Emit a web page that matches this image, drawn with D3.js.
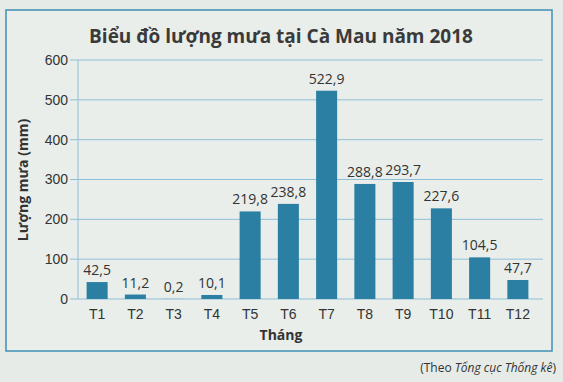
<!DOCTYPE html>
<html><head><meta charset="utf-8">
<script src="https://cdn.jsdelivr.net/npm/d3@7"></script>
<style>body{margin:0;background:#e6ebe7;}svg{display:block;font-family:"Open Sans",sans-serif;}</style>
</head><body><svg id="c" width="563" height="382"></svg>
<script>
const months = ["T1","T2","T3","T4","T5","T6","T7","T8","T9","T10","T11","T12"];
const rainfall = [42.5,11.2,0.2,10.1,219.8,238.8,522.9,288.8,293.7,227.6,104.5,47.7];
const yTicks = [0,100,200,300,400,500,600];
const title = "Biểu đồ lượng mưa tại Cà Mau năm 2018";
const yLabel = "Lượng mưa (mm)";
const xLabel = "Tháng";

const svg = d3.select("#c");
svg.append("rect").attr("width",563).attr("height",382).attr("fill","#e6ebe7");
svg.append("rect").attr("x",6).attr("y",10).attr("width",546).attr("height",341)
  .attr("fill","#e9eeea").attr("stroke","#3f8fb5").attr("stroke-width",1.5);

const x = d3.scaleBand().domain(months).range([78,537]).paddingInner(0.45).paddingOuter(0.225);
const y = d3.scaleLinear().domain([0,600]).range([299,60]);

const grid = svg.append("g");
grid.selectAll("line").data(yTicks).join("line")
  .attr("x1",70).attr("x2",543).attr("y1",d=>y(d)).attr("y2",d=>y(d))
  .attr("stroke","#8fbfd6").attr("stroke-width",1);
svg.append("line").attr("x1",78).attr("x2",78).attr("y1",y(600)).attr("y2",y(0))
  .attr("stroke","#8fbfd6");

const yAxis = svg.append("g").attr("transform","translate(78,0)")
  .call(d3.axisLeft(y).tickValues(yTicks).tickSize(0).tickPadding(10));
yAxis.select(".domain").remove();
yAxis.selectAll("text").attr("font-size",14).attr("fill","#333");

const xAxis = svg.append("g").attr("transform","translate(0,299)")
  .call(d3.axisBottom(x).tickSize(0).tickPadding(10));
xAxis.select(".domain").remove();
xAxis.selectAll("text").attr("font-size",14).attr("fill","#333");

svg.append("g").selectAll("rect").data(rainfall).join("rect")
  .attr("x",(d,i)=>x(months[i])).attr("width",x.bandwidth())
  .attr("y",d=>y(d)).attr("height",d=>y(0)-y(d)).attr("fill","#2b7fa3");

svg.append("g").selectAll("text").data(rainfall).join("text")
  .attr("x",(d,i)=>x(months[i])+x.bandwidth()/2).attr("y",d=>y(d)-7)
  .attr("text-anchor","middle").attr("font-size",14).attr("fill","#333")
  .text(d=>d3.format(".1f")(d).replace(".",","));

svg.append("text").attr("x",281).attr("y",43).attr("text-anchor","middle")
  .attr("font-size",19).attr("font-weight","bold").attr("fill","#3a3a3a").text(title);
svg.append("text").attr("transform","translate(28,180) rotate(-90)").attr("text-anchor","middle")
  .attr("font-size",14).attr("font-weight","bold").attr("fill","#333").text(yLabel);
svg.append("text").attr("x",281).attr("y",340).attr("text-anchor","middle")
  .attr("font-size",14).attr("font-weight","bold").attr("fill","#333").text(xLabel);
const src = svg.append("text").attr("x",556).attr("y",372).attr("text-anchor","end")
  .attr("font-size",12).attr("fill","#333");
src.append("tspan").text("(Theo ");
src.append("tspan").attr("font-style","italic").text("Tổng cục Thống kê");
src.append("tspan").text(")");
</script></body></html>
